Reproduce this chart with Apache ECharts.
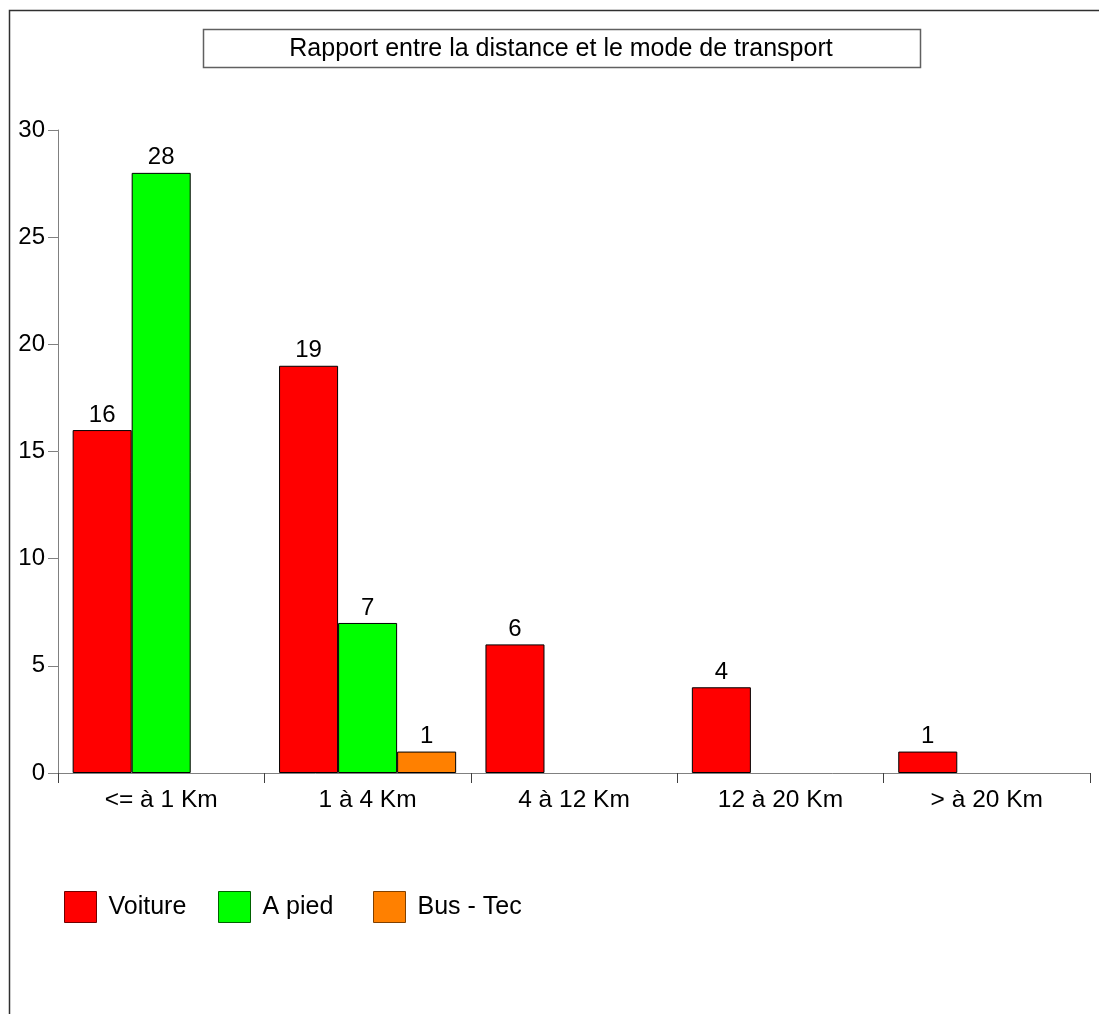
<!DOCTYPE html>
<html><head><meta charset="utf-8">
<script src="https://cdn.jsdelivr.net/npm/echarts@6/dist/echarts.min.js"></script>
<style>html,body{margin:0;padding:0;background:#fff}#c{width:1099px;height:1014px}</style>
</head><body><div id="c"></div>
<script>
const categories = ['<= à 1 Km', '1 à 4 Km', '4 à 12 Km', '12 à 20 Km', '> à 20 Km'];
const voiture = [16, 19, 6, 4, 1];
const aPied = [28, 7, null, null, null];
const busTec = [null, 1, null, null, null];
const yTicks = { min: 0, max: 30, interval: 5 };
const seriesNames = ['Voiture', 'A pied', 'Bus - Tec'];
const titleText = 'Rapport entre la distance et le mode de transport';

const FONT = '"Liberation Sans", Arial, sans-serif';
const chart = echarts.init(document.getElementById('c'), null, { renderer: 'canvas' });
const colors = ['#FF0000', '#00FF00', '#FF8000'];
const legendBorders = ['#700000', '#006000', '#804000'];
const legendLefts = [64, 218, 373];
const dataSets = [voiture, aPied, busTec];

chart.setOption({
  animation: false,
  textStyle: { fontFamily: FONT },
  graphic: [
    { type: 'polyline', shape: { points: [[9.5, 1014], [9.5, 10.5], [1099, 10.5]] },
      style: { stroke: '#303030', lineWidth: 1.5, fill: null } },
    { type: 'rect', shape: { x: 203.5, y: 29.5, width: 717, height: 38 },
      style: { stroke: '#606060', lineWidth: 1.5, fill: '#fff' } },
    { type: 'text', x: 561, y: 49, style: { text: titleText, font: '25px ' + FONT, fill: '#000',
      textAlign: 'center', textVerticalAlign: 'middle' } }
  ],
  grid: { left: 58, top: 130, right: 9, bottom: 241, containLabel: false },
  legend: seriesNames.map((n, i) => ({
    left: legendLefts[i], top: 891, padding: 0, itemWidth: 32, itemHeight: 31,
    icon: 'rect',
    textStyle: { fontSize: 25, color: '#000', fontFamily: FONT, padding: [0, 0, 0, 7] },
    data: [{ name: n, itemStyle: { borderColor: legendBorders[i], borderWidth: 1 } }]
  })),
  xAxis: {
    type: 'category', data: categories,
    axisLine: { lineStyle: { color: '#808080', width: 1 } },
    axisTick: { show: true, length: 10, lineStyle: { color: '#404040' } },
    axisLabel: { fontSize: 24.5, color: '#000', margin: 15, fontFamily: FONT }
  },
  yAxis: {
    type: 'value', min: yTicks.min, max: yTicks.max, interval: yTicks.interval,
    splitLine: { show: false },
    axisLine: { show: true, lineStyle: { color: '#808080', width: 1 } },
    axisTick: { show: true, length: 10, lineStyle: { color: '#808080' } },
    axisLabel: { fontSize: 24, color: '#000', margin: 13, fontFamily: FONT }
  },
  series: seriesNames.map((n, i) => ({
    name: n, type: 'bar', data: dataSets[i],
    barGap: '0%', barCategoryGap: '14.2%',
    itemStyle: { color: colors[i], borderColor: '#000', borderWidth: 1 },
    label: { show: true, position: 'top', distance: 3, fontSize: 24, color: '#000', fontFamily: FONT }
  }))
});
</script></body></html>
